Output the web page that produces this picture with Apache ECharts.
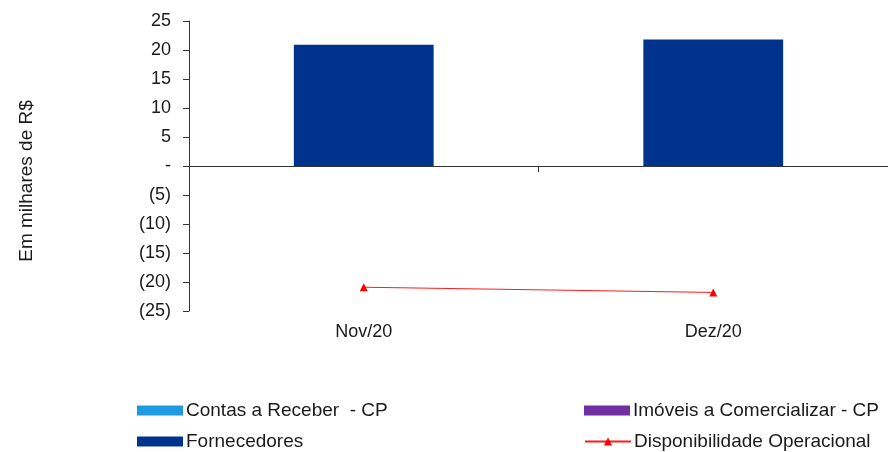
<!DOCTYPE html>
<html><head><meta charset="utf-8">
<script src="https://cdn.jsdelivr.net/npm/echarts@6/dist/echarts.min.js"></script>
<style>html,body{margin:0;padding:0;background:#fff}#c{width:888px;height:452px}</style>
</head><body><div id="c"></div>
<script>
const categories = ['Nov/20', 'Dez/20'];
const contasReceber = [0, 0];
const imoveis = [0, 0];
const fornecedores = [20.9, 21.8];
const disponibilidade = [-20.9, -21.8];
const yTicks = {min: -25, max: 25, interval: 5};

const font = 'Liberation Sans, Arial, sans-serif';
const txt = '#1a1a1a';
const fs = 18;
const fsL = 19;
const chart = echarts.init(document.getElementById('c'));
function fmt(v){ if (v === 0) return '-'; return v < 0 ? '(' + (-v) + ')' : String(v); }
const legendBase = {orient:'horizontal', itemWidth:46, itemHeight:10, textStyle:{fontFamily:font, fontSize:fsL, color:txt, padding:[0,0,0,-2]}, padding:0, selectedMode:false};
chart.setOption({
  animation:false,
  textStyle:{fontFamily:font},
  grid:{left:189, right:0, top:21, bottom:141},
  graphic:[{type:'text', x:27, y:181, rotation:Math.PI/2, style:{text:'Em milhares de R$', font:fsL + 'px Liberation Sans, Arial, sans-serif', fill:txt, align:'center', verticalAlign:'middle'}}],
  legend:[
    Object.assign({}, legendBase, {left:137, top:401, data:[{name:'Contas a Receber  - CP', icon:'rect'}]}),
    Object.assign({}, legendBase, {left:137, top:432, data:[{name:'Fornecedores', icon:'rect'}]}),
    Object.assign({}, legendBase, {left:584, top:401, data:[{name:'Imóveis a Comercializar - CP', icon:'rect'}]}),
    Object.assign({}, legendBase, {left:584, top:432, data:['Disponibilidade Operacional']})
  ],
  xAxis:[
    {type:'category', data:categories, axisLine:{onZero:true, lineStyle:{color:'#333', width:1}}, axisTick:{show:true, alignWithLabel:false, length:6, lineStyle:{color:'#333'}}, axisLabel:{show:false}},
    {type:'category', data:categories, position:'bottom', axisLine:{show:false}, axisTick:{show:false}, axisLabel:{margin:12, fontSize:fs, color:txt, fontFamily:font}}
  ],
  yAxis:{type:'value', min:yTicks.min, max:yTicks.max, interval:yTicks.interval, splitLine:{show:false},
    axisLine:{show:true, lineStyle:{color:'#333'}}, axisTick:{show:true, length:6, lineStyle:{color:'#333'}},
    axisLabel:{formatter:fmt, fontSize:fs, color:txt, margin:18, fontFamily:font}},
  series:[
    {name:'Contas a Receber  - CP', type:'bar', stack:'s', barWidth:'40%', data:contasReceber, itemStyle:{color:'#1E9BE0'}},
    {name:'Imóveis a Comercializar - CP', type:'bar', stack:'s', barWidth:'40%', data:imoveis, itemStyle:{color:'#7030A0'}},
    {name:'Fornecedores', type:'bar', stack:'s', barWidth:'40%', data:fornecedores, itemStyle:{color:'#00338D'}},
    {name:'Disponibilidade Operacional', type:'line', data:disponibilidade, symbol:'triangle', symbolSize:8, lineStyle:{color:'#FF1A1A', width:1}, itemStyle:{color:'#FF0000'}}
  ]
});
</script></body></html>
